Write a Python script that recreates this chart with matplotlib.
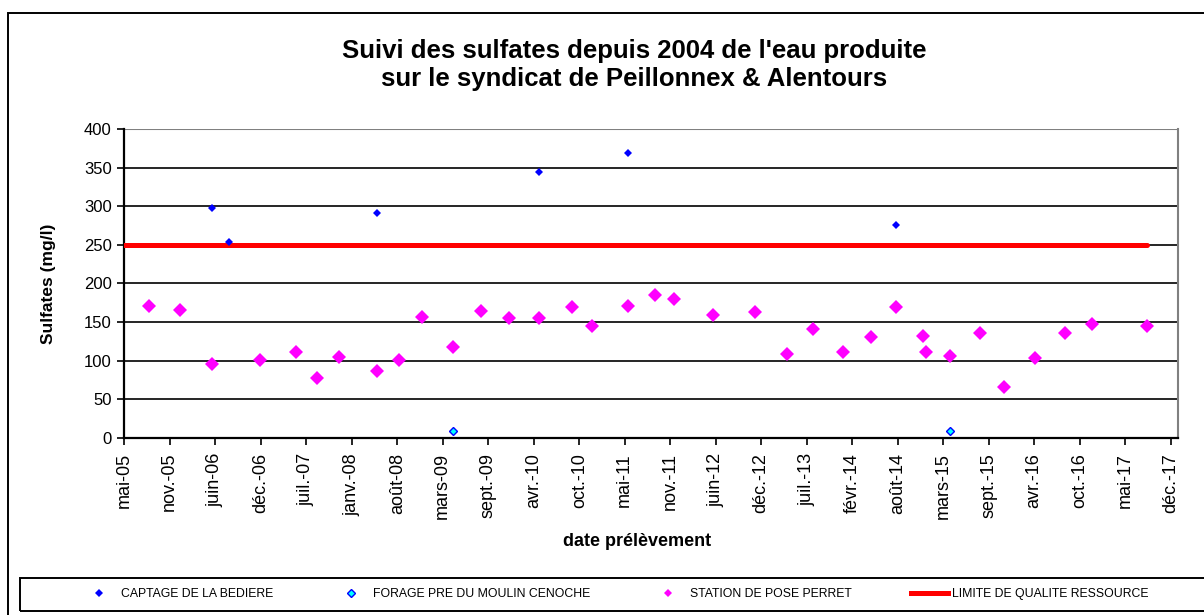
import matplotlib
matplotlib.use("Agg")
import matplotlib.pyplot as plt
import matplotlib.dates as mdates
from matplotlib.patches import Rectangle
from matplotlib.lines import Line2D
from matplotlib import font_manager
import pandas as pd

# ---------------- data ----------------
station_dates = ["2005-08-16", "2006-01-02", "2006-05-22", "2006-12-19", "2007-05-26",
                 "2007-08-25", "2007-11-30", "2008-05-16", "2008-08-19", "2008-11-30",
                 "2009-04-17", "2009-08-15", "2009-12-18", "2010-04-29", "2010-09-20",
                 "2010-12-19", "2011-05-23", "2011-09-21", "2011-12-11", "2012-06-02",
                 "2012-12-03", "2013-04-21", "2013-08-13", "2013-12-23", "2014-04-27",
                 "2014-08-13", "2014-12-12", "2014-12-23", "2015-04-07", "2015-08-17",
                 "2015-12-02", "2016-04-18", "2016-08-28", "2016-12-24", "2017-08-20"]
station_values = [171, 166, 95, 101, 111, 78, 104, 87, 101, 157,
                  118, 164, 155, 155, 170, 145, 171, 185, 180, 159,
                  163, 108, 141, 111, 131, 170, 132, 111, 106, 136,
                  66, 103, 136, 147, 145]

bediere_dates = ["2006-05-22", "2006-08-04", "2008-05-16", "2010-04-28", "2011-05-23", "2014-08-13"]
bediere_values = [298, 254, 291, 344, 369, 275]

forage_dates = ["2009-04-17", "2015-04-07"]
forage_values = [9, 9]

limite_dates = ["2005-05-01", "2017-08-20"]
limite_values = [250, 250]

x_tick_labels = ["mai-05", "nov.-05", "juin-06", "déc.-06", "juil.-07", "janv.-08", "août-08",
                 "mars-09", "sept.-09", "avr.-10", "oct.-10", "mai-11", "nov.-11", "juin-12",
                 "déc.-12", "juil.-13", "févr.-14", "août-14", "mars-15", "sept.-15",
                 "avr.-16", "oct.-16", "mai-17", "déc.-17"]
y_ticks = [0, 50, 100, 150, 200, 250, 300, 350, 400]

title = "Suivi des sulfates depuis 2004 de l'eau produite\nsur le syndicat de Peillonnex & Alentours"
x_label = "date prélèvement"
y_label = "Sulfates (mg/l)"
series_names = ["CAPTAGE DE LA BEDIERE", "FORAGE PRE DU MOULIN CENOCHE",
                "STATION DE POSE PERRET", "LIMITE DE QUALITE RESSOURCE"]

# ---------------- style ----------------
names = {f.name for f in font_manager.fontManager.ttflist}
base_font = "Liberation Sans" if "Liberation Sans" in names else "DejaVu Sans"
plt.rcParams["font.family"] = [base_font, "DejaVu Sans"]

W, H = 1204, 615
fig = plt.figure(figsize=(W / 100, H / 100), dpi=100)

def fx(px):
    return px / W

def fy(py):
    return 1 - py / H

left, right, top, bottom = 124.3, 1177.7, 129.0, 437.7
ax = fig.add_axes([fx(left), fy(bottom), fx(right - left), (bottom - top) / H])

to_dt = lambda s: mdates.date2num(pd.to_datetime(s))

x0 = to_dt("2005-05-01")
step = 200
tick_pos = [x0 + step * k for k in range(len(x_tick_labels))]
x_max = x0 + step * (len(x_tick_labels) - 1) + (right - 1170.7) / 45.5 * step

# limit line
ax.plot([to_dt(d) for d in limite_dates], limite_values, color="#FF0000", lw=3.6,
        solid_capstyle="round", zorder=3)
# series
ax.plot([to_dt(d) for d in station_dates], station_values, ls="none", marker="D",
        ms=7.5, mfc="#FF00FF", mec="#FF00FF", mew=0, zorder=4)
ax.plot([to_dt(d) for d in bediere_dates], bediere_values, ls="none", marker="D",
        ms=3.9, mfc="#0000FF", mec="#0000FF", mew=0, zorder=5)
ax.plot([to_dt(d) for d in forage_dates], forage_values, ls="none", marker="D",
        ms=3.8, mfc="#00FFFF", mec="#0000FF", mew=1.0, zorder=5)

ax.set_xlim(x0, x_max)
ax.set_ylim(0, 400)
ax.set_yticks(y_ticks)
ax.set_yticklabels([str(v) for v in y_ticks], fontsize=12)
ax.set_xticks(tick_pos)
ax.set_xticklabels(x_tick_labels, rotation=90, fontsize=13)
ax.tick_params(axis="both", direction="out", length=5, width=1.2, color="black")
ax.tick_params(axis="x", pad=6)
ax.tick_params(axis="y", pad=4)

for v in y_ticks[1:-1]:
    ax.axhline(v, color="#000000", lw=1.2, zorder=1)
ax.axhline(400, color="#808080", lw=1.5, zorder=1)

for s in ["left", "bottom"]:
    ax.spines[s].set_color("black")
    ax.spines[s].set_linewidth(1.6)
ax.spines["right"].set_color("#808080")
ax.spines["right"].set_linewidth(1.5)
ax.spines["top"].set_visible(False)

fig.text(fx(48), fy(284), y_label, fontsize=12.5, fontweight="bold", ha="center", va="center",
         rotation=90)
fig.text(fx(637), fy(541), x_label, fontsize=13, fontweight="bold", ha="center", va="center")

fig.text(fx(634), fy(65), title, fontsize=18.5, fontweight="bold", ha="center", va="center",
         linespacing=1.22)

# outer chart border (extends past right/bottom edge)
fig.patches.append(Rectangle((fx(8), fy(700)), fx(1400), fy(13.3) - fy(700), transform=fig.transFigure,
                             fill=False, ec="black", lw=1.4))
# legend box
fig.patches.append(Rectangle((fx(20), fy(610.7)), fx(1400), fy(577.7) - fy(610.7), transform=fig.transFigure,
                             fill=False, ec="black", lw=1.4))

handles = [
    Line2D([], [], ls="none", marker="D", ms=3.7, mfc="#0000FF", mec="#0000FF", mew=0),
    Line2D([], [], ls="none", marker="D", ms=3.8, mfc="#00FFFF", mec="#0000FF", mew=1.0),
    Line2D([], [], ls="none", marker="D", ms=3.7, mfc="#FF00FF", mec="#FF00FF", mew=0),
    Line2D([], [], color="#FF0000", lw=3.6),
]
fs_leg = 8.8
leg = fig.legend(handles, series_names, loc="center left", bbox_to_anchor=(fx(81), fy(594)),
                 ncol=4, frameon=False, handlelength=3.0, handletextpad=0.29,
                 columnspacing=4.87, borderaxespad=0, borderpad=0,
                 prop={"family": [base_font], "size": fs_leg})

fig.savefig("out.png", dpi=100)
